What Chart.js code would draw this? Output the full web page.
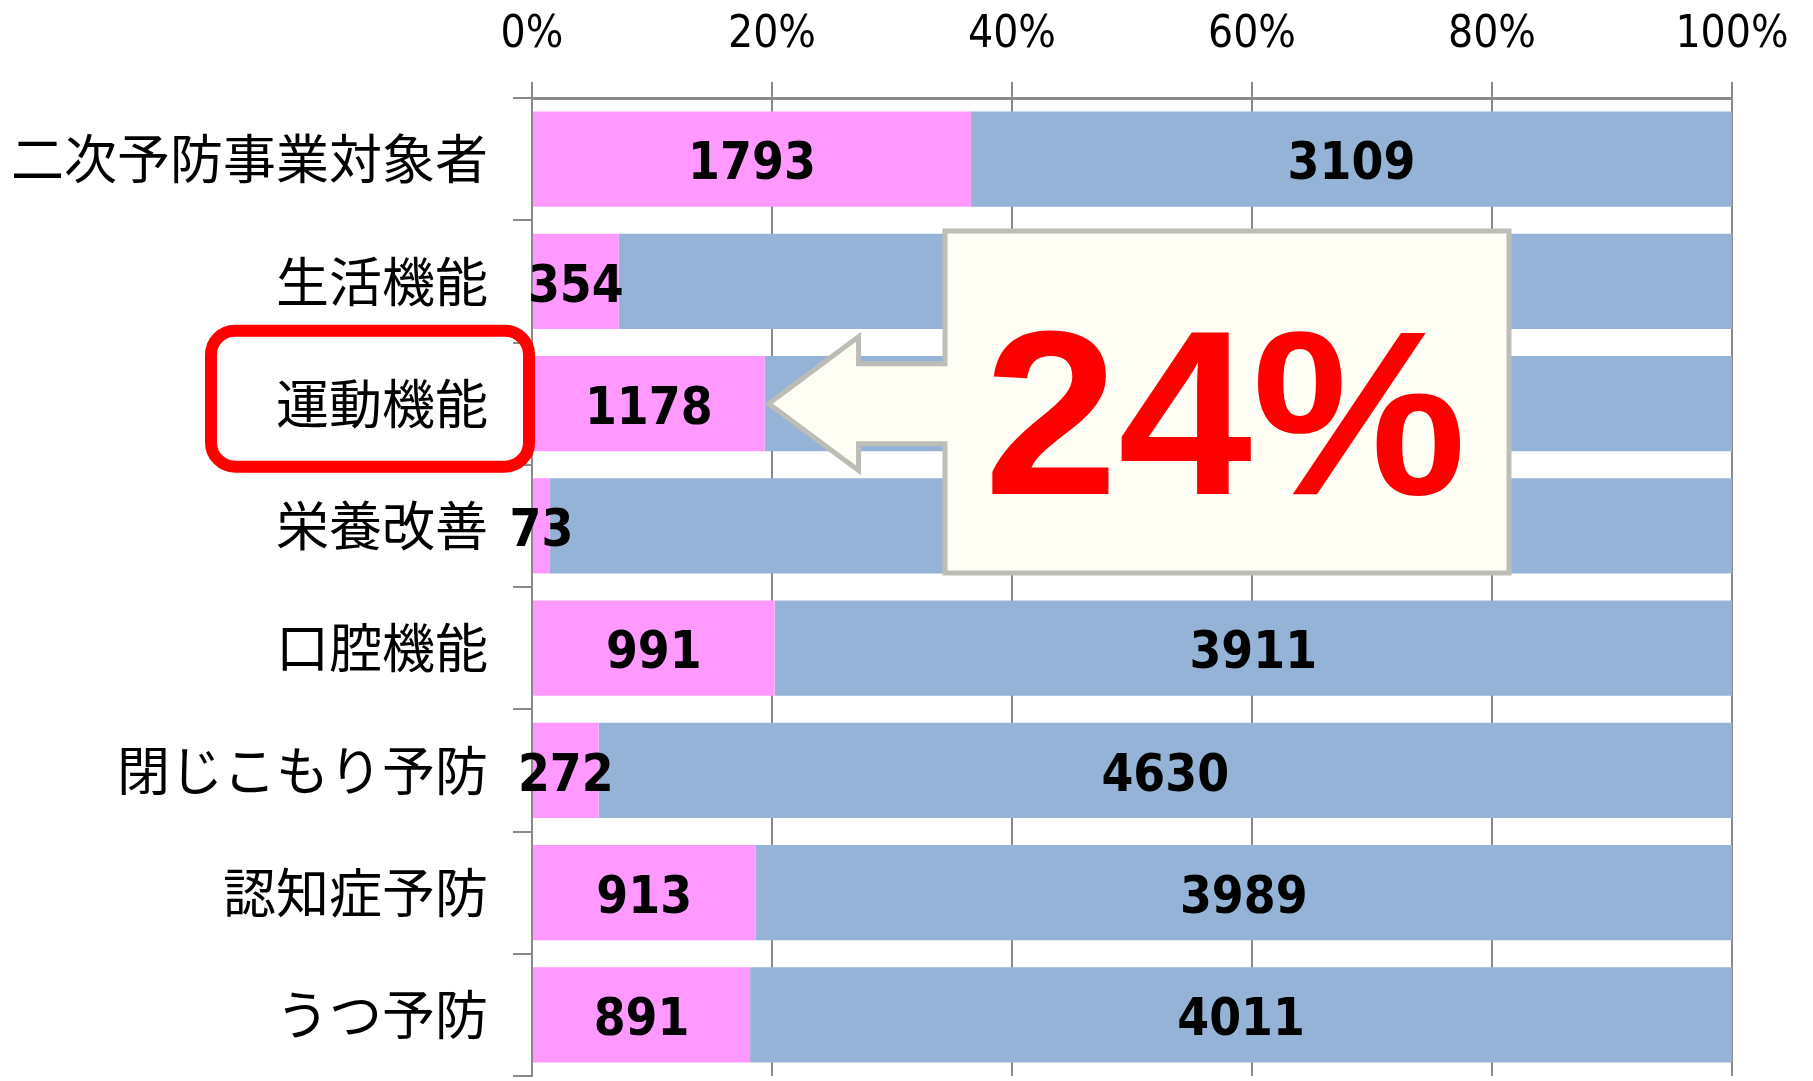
<!DOCTYPE html>
<html><head><meta charset="utf-8">
<script src="https://cdn.jsdelivr.net/npm/chart.js@4/dist/chart.umd.min.js"></script>
<style>html,body{margin:0;padding:0;background:#fff;overflow:hidden}canvas{display:block}</style>
</head><body>
<canvas id="c" width="1813" height="1081"></canvas>
<script>
const categories = ['二次予防事業対象者','生活機能','運動機能','栄養改善','口腔機能','閉じこもり予防','認知症予防','うつ予防'];
const pinkValues = [1793, 354, 1178, 73, 991, 272, 913, 891];
const blueValues = [3109, 4548, 4900, 4829, 3911, 4630, 3989, 4011];
const tickLabels = ['0%','20%','40%','60%','80%','100%'];
const calloutText = '24%';
const highlightIndex = 2;

const pinkPct = pinkValues.map((v,i)=> v/(v+blueValues[i])*100);
const bluePct = blueValues.map((v,i)=> v/(v+pinkValues[i])*100);

const NUM_FONT = "bold 51px 'DejaVu Sans Condensed', 'Liberation Sans Narrow', 'DejaVu Sans', sans-serif";
const GRID = '#8a8a8a';

const labelPlugin = {
  id: 'valueLabels',
  afterDatasetsDraw(chart){
    const ctx = chart.ctx;
    ctx.save();
    ctx.font = NUM_FONT; ctx.fillStyle = '#000'; ctx.textAlign = 'center'; ctx.textBaseline = 'middle';
    chart.data.datasets.forEach((ds, di) => {
      const meta = chart.getDatasetMeta(di);
      meta.data.forEach((el, i) => {
        const cx = (el.x + el.base) / 2;
        ctx.fillText(String(ds.rawValues[i]), cx, el.y + 7);
      });
    });
    ctx.restore();
  }
};

const calloutPlugin = {
  id: 'callout',
  afterDraw(chart){
    const ctx = chart.ctx;
    const xs = chart.scales.x, ys = chart.scales.y;
    const tipX = xs.getPixelForValue(pinkPct[highlightIndex]) + 4;
    const tipY = ys.getPixelForValue(highlightIndex);
    const L = 945, R = 1509, T = 231, B = 573;
    const headX = tipX + 90;
    ctx.save();
    ctx.beginPath();
    ctx.moveTo(L, T);
    ctx.lineTo(R, T);
    ctx.lineTo(R, B);
    ctx.lineTo(L, B);
    ctx.lineTo(L, tipY + 40);
    ctx.lineTo(headX, tipY + 40);
    ctx.lineTo(headX, tipY + 67);
    ctx.lineTo(tipX, tipY);
    ctx.lineTo(headX, tipY - 67);
    ctx.lineTo(headX, tipY - 40);
    ctx.lineTo(L, tipY - 40);
    ctx.closePath();
    ctx.fillStyle = '#FFFEF5';
    ctx.fill();
    ctx.lineWidth = 5;
    ctx.strokeStyle = '#BDBDB7';
    ctx.lineJoin = 'miter';
    ctx.stroke();

    ctx.save();
    ctx.translate(984, 494);
    ctx.scale(1.03, 1);
    ctx.fillStyle = '#FF0000';
    ctx.font = "bold 234px 'Liberation Sans', Arial, sans-serif";
    ctx.textAlign = 'left';
    ctx.textBaseline = 'alphabetic';
    ctx.fillText(calloutText, 0, 0);
    ctx.restore();

    const rx = 211, ry = tipY - 73, rw = 318, rh = 136, r = 24;
    ctx.beginPath();
    ctx.roundRect(rx, ry, rw, rh, r);
    ctx.lineWidth = 12;
    ctx.strokeStyle = '#FF0000';
    ctx.stroke();
    ctx.restore();
  }
};

new Chart(document.getElementById('c'), {
  type: 'bar',
  data: {
    labels: categories,
    datasets: [
      { data: pinkPct, rawValues: pinkValues, backgroundColor: '#FF99FF', borderWidth: 0 },
      { data: bluePct, rawValues: blueValues, backgroundColor: '#95B3D7', borderWidth: 0 }
    ]
  },
  options: {
    indexAxis: 'y',
    responsive: false,
    animation: false,
    devicePixelRatio: 1,
    layout: { padding: { left: 0, right: 81, top: 0, bottom: 5 } },
    datasets: { bar: { barPercentage: 0.78, categoryPercentage: 1.0 } },
    plugins: { legend: { display: false }, tooltip: { enabled: false } },
    scales: {
      x: {
        position: 'top',
        stacked: true,
        min: 0, max: 100,
        ticks: {
          stepSize: 20,
          padding: 20,
          color: '#000',
          font: { family: "'DejaVu Sans Condensed', 'Liberation Sans Narrow', 'DejaVu Sans', sans-serif", size: 44 },
          callback: (v) => tickLabels[Math.round(v / 20)]
        },
        grid: { color: GRID, lineWidth: 2, tickLength: 16, drawTicks: true },
        border: { color: GRID, width: 3 },
        afterFit: (s) => { s.height = 98; s.paddingLeft = 0; s.paddingRight = 0; }
      },
      y: {
        stacked: true,
        ticks: {
          padding: 25,
          color: '#000',
          font: { family: "'Noto Sans CJK JP', sans-serif", size: 53 }
        },
        grid: { drawOnChartArea: false, color: GRID, lineWidth: 2, tickLength: 19, offset: true },
        border: { color: GRID, width: 2 },
        afterFit: (s) => { s.width = 532; s.paddingTop = 0; s.paddingBottom = 0; }
      }
    }
  },
  plugins: [labelPlugin, calloutPlugin]
});
</script>
</body></html>
